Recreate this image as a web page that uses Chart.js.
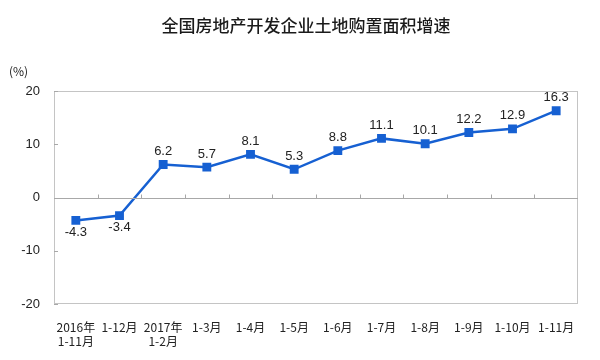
<!DOCTYPE html>
<html>
<head>
<meta charset="utf-8">
<script src="https://cdn.jsdelivr.net/npm/chart.js@4/dist/chart.umd.min.js"></script>
<style>
  html, body { margin: 0; padding: 0; background: #fff; }
  #wrap { width: 600px; height: 360px; }
</style>
</head>
<body>
<div id="wrap"><canvas id="landChart"></canvas></div>
<script>
 const chartTitle = "全国房地产开发企业土地购置面积增速";
 const unitLabel = "(%)";
 const months = [
   ["2016年", "1-11月"], "1-12月", ["2017年", "1-2月"], "1-3月", "1-4月", "1-5月",
   "1-6月", "1-7月", "1-8月", "1-9月", "1-10月", "1-11月"
 ];
 const growth = [-4.3, -3.4, 6.2, 5.7, 8.1, 5.3, 8.8, 11.1, 10.1, 12.2, 12.9, 16.3];
 const yTicks = [-20, -10, 0, 10, 20];

 const lineBlue = "#1660d2";
 const cjkFont = "'Noto Sans CJK SC', 'Liberation Sans', sans-serif";

 // frame, inner ticks, zero line, value labels and the title
 const extras = {
   id: "extras",
   afterDatasetsDraw(chart) {
     const ctx = chart.ctx;
     const area = chart.chartArea;
     const x = chart.scales.x;
     const y = chart.scales.y;
     ctx.save();

     ctx.strokeStyle = "#c4c4c4";
     ctx.lineWidth = 1;
     ctx.strokeRect(area.left + 0.5, area.top + 0.5, area.right - area.left - 1, area.bottom - area.top - 1);

     const zeroY = Math.round(y.getPixelForValue(0)) + 0.5;
     ctx.strokeStyle = "#a8a8a8";
     ctx.beginPath();
     ctx.moveTo(area.left, zeroY);
     ctx.lineTo(area.right, zeroY);
     // y ticks point inward
     yTicks.forEach(function (t) {
       const py = Math.round(y.getPixelForValue(t)) + 0.5;
       ctx.moveTo(area.left, py);
       ctx.lineTo(area.left + 4, py);
     });
     // x ticks between categories on the zero line
     for (let i = 1; i < months.length; i++) {
       const px = Math.round((x.getPixelForValue(i - 1) + x.getPixelForValue(i)) / 2) + 0.5;
       ctx.moveTo(px, zeroY);
       ctx.lineTo(px, zeroY - 4);
     }
     ctx.stroke();

     // value labels
     const meta = chart.getDatasetMeta(0);
     ctx.fillStyle = "#222";
     ctx.font = "13px 'Liberation Sans', Arial, sans-serif";
     ctx.textAlign = "center";
     ctx.textBaseline = "middle";
     meta.data.forEach(function (pt, i) {
       const below = growth[i] < 0;
       ctx.fillText(growth[i].toFixed(1), pt.x, below ? pt.y + 12 : pt.y - 13);
     });

     // title and unit
     ctx.fillStyle = "#1a1a1a";
     ctx.font = "500 17px " + cjkFont;
     ctx.fillText(chartTitle, 306, 26);
     ctx.font = "12px " + cjkFont;
     ctx.textAlign = "left";
     ctx.fillText(unitLabel, 9, 71);
     ctx.restore();
   }
 };

 const landConfig = {
   type: "line",
   data: {
     labels: months,
     datasets: [{
       label: "土地购置面积增速",
       data: growth,
       borderColor: lineBlue,
       backgroundColor: lineBlue,
       borderWidth: 2.5,
       pointStyle: "rect",
       pointRadius: 4.5,
       pointHoverRadius: 4.5,
       tension: 0
     }]
   },
   options: {
     responsive: true,
     maintainAspectRatio: false,
     animation: false,
     layout: {
       padding: { left: 9, right: 22, top: 91, bottom: 6 }
     },
     scales: {
       x: {
         type: "category",
         offset: true,
         grid: { display: false, drawTicks: false },
         border: { display: false },
         ticks: {
           autoSkip: false,
           maxRotation: 0,
           padding: 16,
           color: "#222",
           font: { size: 12, family: cjkFont }
         },
         afterFit: function (scale) { scale.height = 50; }
       },
       y: {
         min: -20,
         max: 20,
         grid: { display: false, drawTicks: false },
         border: { display: false },
         ticks: {
           stepSize: 10,
           padding: 14,
           color: "#222",
           font: { size: 13, family: "'Liberation Sans', Arial, sans-serif" }
         },
         afterFit: function (scale) { scale.width = 45; }
       }
     },
     plugins: {
       legend: { display: false },
       tooltip: { enabled: false }
     }
   },
   plugins: [extras]
 };

 const landChart = new Chart(document.getElementById("landChart"), landConfig);
</script>
</body>
</html>
